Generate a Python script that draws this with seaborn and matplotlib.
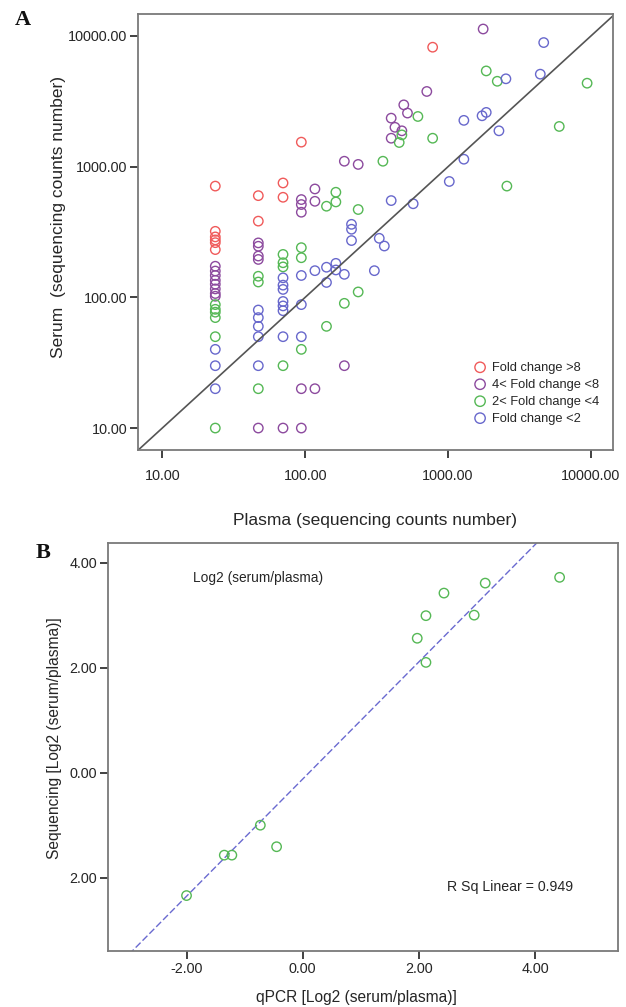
# Serum vs plasma sequencing counts (A) and qPCR vs sequencing log2 ratios (B)

# %% Imports
import matplotlib
matplotlib.use("Agg")
import matplotlib.pyplot as plt
import seaborn as sns
from matplotlib.ticker import NullLocator

# %% Data - panel A, one list pair per fold-change group
red_plasma = [23.5, 23.5, 23.5, 23.5, 23.5, 23.5, 47, 47, 70, 70, 94, 780]
red_serum = [710, 320, 290, 275, 262, 232, 600, 383, 750, 583, 1540, 8200]

purple_plasma = [23.5, 23.5, 23.5, 23.5, 23.5, 23.5, 23.5, 23.5,
                 47, 47, 47, 47, 47, 70, 94, 94, 94, 94, 94,
                 117, 117, 117, 188, 188, 235,
                 1760, 710, 490, 520, 400, 425, 475, 400]
purple_serum = [173, 159, 147, 135, 126, 116, 107, 102,
                261, 246, 207, 195, 10, 10, 560, 513, 448, 20, 10,
                675, 543, 20, 1100, 30, 1040,
                11300, 3760, 2970, 2570, 2350, 2000, 1880, 1650]

green_plasma = [23.5, 23.5, 23.5, 23.5, 23.5, 23.5, 47, 47, 47,
                70, 70, 70, 70, 94, 94, 94, 141, 141, 164, 164, 188, 235, 235,
                350, 475, 455, 615, 780, 1850, 2210, 9400, 6000, 2580]
green_serum = [88, 81, 77, 70, 50, 10, 145, 131, 20,
               213, 184, 171, 30, 240, 201, 40, 498, 60, 637, 537, 90, 470, 110,
               1100, 1750, 1530, 2420, 1650, 5400, 4500, 4350, 2030, 710]

blue_plasma = [23.5, 23.5, 23.5, 47, 47, 47, 47, 47,
               70, 70, 70, 70, 70, 70, 70, 94, 94, 94, 117, 141, 141,
               164, 164, 188, 211, 211, 211,
               305, 330, 358, 400, 570, 1020, 1290, 1290, 1730, 1850,
               2270, 2540, 4420, 4670]
blue_serum = [40, 30, 20, 80, 70, 60, 50, 30,
              141, 124, 115, 93, 86, 79, 50, 147, 88, 50, 160, 170, 130,
              182, 162, 150, 362, 332, 272,
              160, 283, 247, 550, 520, 770, 1140, 2260, 2450, 2600,
              1880, 4700, 5100, 8900]

fold_labels = ["Fold change >8", "4< Fold change <8", "2< Fold change <4", "Fold change <2"]
fold_colors = ["#f05a5a", "#8c4a9e", "#55b855", "#6868cc"]
a_ticks = [10, 100, 1000, 10000]
a_tick_labels = ["10.00", "100.00", "1000.00", "10000.00"]

# %% Data - panel B
qpcr = [-2.0, -1.35, -1.22, -0.73, -0.45, 1.97, 2.12, 2.12, 2.43, 2.95, 3.14, 4.42]
seq = [-2.34, -1.57, -1.57, -1.0, -1.41, 2.56, 2.10, 2.99, 3.42, 3.0, 3.61, 3.72]
b_ticks = [-2, 0, 2, 4]
b_xtick_labels = ["-2.00", "0.00", "2.00", "4.00"]
b_ytick_labels = ["2.00", "0.00", "2.00", "4.00"]

# %% Style
sns.set_theme(style="ticks")
plt.rcParams["font.family"] = ["Liberation Sans", "DejaVu Sans"]
plt.rcParams["axes.unicode_minus"] = False

frame_col = "#7a7a7a"
tick_col = "#333333"
text_col = "#262626"

fig = plt.figure(figsize=(6.26, 10.07), dpi=100)
ax1 = fig.add_axes([0.2204, 0.5531, 0.7588, 0.433])
ax2 = fig.add_axes([0.173, 0.0559, 0.8147, 0.4052])

# %% Panel A
ax1.set_xscale("log")
ax1.set_yscale("log")
groups = [(red_plasma, red_serum), (purple_plasma, purple_serum),
          (green_plasma, green_serum), (blue_plasma, blue_serum)]
for (px, sy), lab, col in zip(groups, fold_labels, fold_colors):
    sns.scatterplot(x=px, y=sy, ax=ax1, label=lab, s=46, marker="o",
                    color=col, facecolors="none", edgecolor=col, linewidth=1.0)

ax1.axline((10, 10), (1000, 1000), color="#555555", lw=1.2, zorder=1)
ax1.set_xlim(6.76, 14260)
ax1.set_ylim(6.79, 14720)
ax1.set_xticks(a_ticks)
ax1.set_xticklabels(a_tick_labels)
ax1.set_yticks(a_ticks)
ax1.set_yticklabels(a_tick_labels)
ax1.xaxis.set_minor_locator(NullLocator())
ax1.yaxis.set_minor_locator(NullLocator())
ax1.tick_params(axis="both", direction="out", length=6, width=1.3, color=tick_col,
                labelsize=10.4, labelcolor=text_col)
ax1.tick_params(axis="x", pad=8)
ax1.tick_params(axis="y", pad=1.5)

ax1.set_xlabel("Plasma (sequencing counts number)", fontsize=12.5, color=text_col, va="center")
ax1.set_ylabel("Serum  (sequencing counts number)", fontsize=12.5, color=text_col, va="center")
ax1.xaxis.set_label_coords(0.499, -0.1606)
ax1.yaxis.set_label_coords(-0.168, 0.534)

ax1.legend(loc="upper left", bbox_to_anchor=(0.693, 0.2175), frameon=False,
           borderpad=0, handlelength=1.0, handletextpad=0.43, labelspacing=0.38,
           markerscale=1.1, fontsize=9.3, labelcolor=text_col)

# %% Panel B
ax2.set_xlim(-3.346, 5.43)
ax2.set_ylim(-3.39, 4.38)
sns.regplot(x=qpcr, y=seq, ax=ax2, scatter=False, ci=None, truncate=False,
            line_kws=dict(color="#6a6ad0", lw=1.0, ls=(0, (5, 2))))
sns.scatterplot(x=qpcr, y=seq, ax=ax2, s=46, marker="o", color="#55b855",
                facecolors="none", edgecolor="#55b855", linewidth=1.0, zorder=3)
ax2.set_xlim(-3.346, 5.43)
ax2.set_ylim(-3.39, 4.38)
ax2.set_xticks(b_ticks)
ax2.set_xticklabels(b_xtick_labels)
ax2.set_yticks(b_ticks)
ax2.set_yticklabels(b_ytick_labels)
ax2.tick_params(axis="both", direction="out", length=6, width=1.3, color=tick_col,
                labelsize=10.4, labelcolor=text_col, pad=2)

ax2.text(0.1655, 0.9135, "Log2 (serum/plasma)", transform=ax2.transAxes,
         fontsize=9.9, color=text_col, ha="left", va="center")
ax2.text(0.6635, 0.157, "R Sq Linear = 0.949", transform=ax2.transAxes,
         fontsize=10.2, color=text_col, ha="left", va="center")

ax2.set_xlabel("qPCR [Log2 (serum/plasma)]", fontsize=11.2, color=text_col, va="center")
ax2.set_ylabel("Sequencing [Log2 (serum/plasma)]", fontsize=11.2, color=text_col, va="center")
ax2.xaxis.set_label_coords(0.4857, -0.1135)
ax2.yaxis.set_label_coords(-0.1055, 0.521)

for ax in (ax1, ax2):
    for sp in ax.spines.values():
        sp.set_color(frame_col)
        sp.set_linewidth(1.3)

# %% Panel letters
fig.text(23 / 626, 1 - 20 / 1007, "A", fontsize=16, fontweight="bold",
         family="Liberation Serif", ha="center", va="center", color="#111111")
fig.text(43.5 / 626, 1 - 552.5 / 1007, "B", fontsize=16, fontweight="bold",
         family="Liberation Serif", ha="center", va="center", color="#111111")

fig.savefig("out.png", dpi=100)
